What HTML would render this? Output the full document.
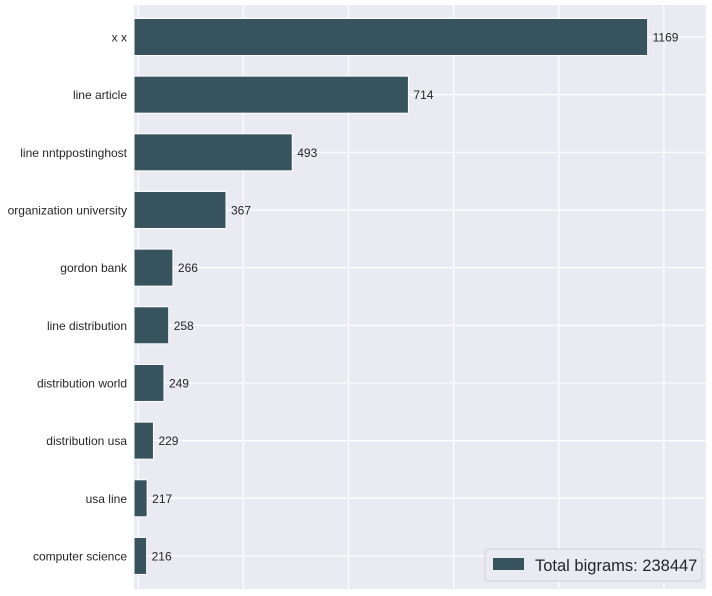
<!DOCTYPE html>
<html><head><meta charset="utf-8"><style>
body{margin:0;background:#fff;font-family:"Liberation Sans",Arial,sans-serif}
svg text{font-family:"Liberation Sans",Arial,sans-serif}
</style></head><body>
<svg id="c" width="712" height="591" xmlns="http://www.w3.org/2000/svg"></svg>
<script>
const categories=["x x","line article","line nntppostinghost","organization university","gordon bank","line distribution","distribution world","distribution usa","usa line","computer science"];
const values=[1169,714,493,367,266,258,249,229,217,216];
const xTicks=[200,400,600,800,1000,1200];
const legendLabel="Total bigrams: 238447";
const NS="http://www.w3.org/2000/svg";
const svg=document.getElementById('c');
const L=134,R=706,T=5,B=589;
const xMin=192,xMax=1280;
function x(v){return L+(v-xMin)/(xMax-xMin)*(R-L);}
const step=57.66;
function y(i){return 37+i*step;}
function mk(t,a,p){const e=document.createElementNS(NS,t);for(const k in a)e.setAttribute(k,a[k]);(p||svg).appendChild(e);return e;}
const bg=mk('rect',{x:L,y:T,width:R-L,height:B-T,fill:'#eaeaf2'});


xTicks.forEach(t=>{const g=mk('line',{x1:x(t),x2:x(t),y1:T,y2:B,stroke:'#fff','stroke-width':1.2});

});
categories.forEach((c,i)=>{const g=mk('line',{x1:L,x2:R,y1:y(i),y2:y(i),stroke:'#fff','stroke-width':1.2});

});
const bh=37;
categories.forEach((c,i)=>{
const r=mk('rect',{x:L,y:y(i)-bh/2,width:x(values[i])-L,height:bh,fill:'#37535e',stroke:'#fff','stroke-width':1});


const v=mk('text',{x:x(values[i])+5,y:y(i)+4.5,'font-size':12,fill:'#262626'});v.textContent=values[i];


const l=mk('text',{x:127,y:y(i)+4.5,'font-size':12,fill:'#262626','text-anchor':'end'});l.textContent=c;


});
const lg=mk('g',{});


mk('rect',{x:485,y:549,width:217,height:32,rx:3,fill:'#eaeaf2',stroke:'#d0d0d8'},lg);
mk('rect',{x:493,y:558,width:31,height:12,fill:'#37535e'},lg);
const lt=mk('text',{x:535,y:571,'font-size':16.5,fill:'#262626'},lg);lt.textContent=legendLabel;


</script>
</body></html>
